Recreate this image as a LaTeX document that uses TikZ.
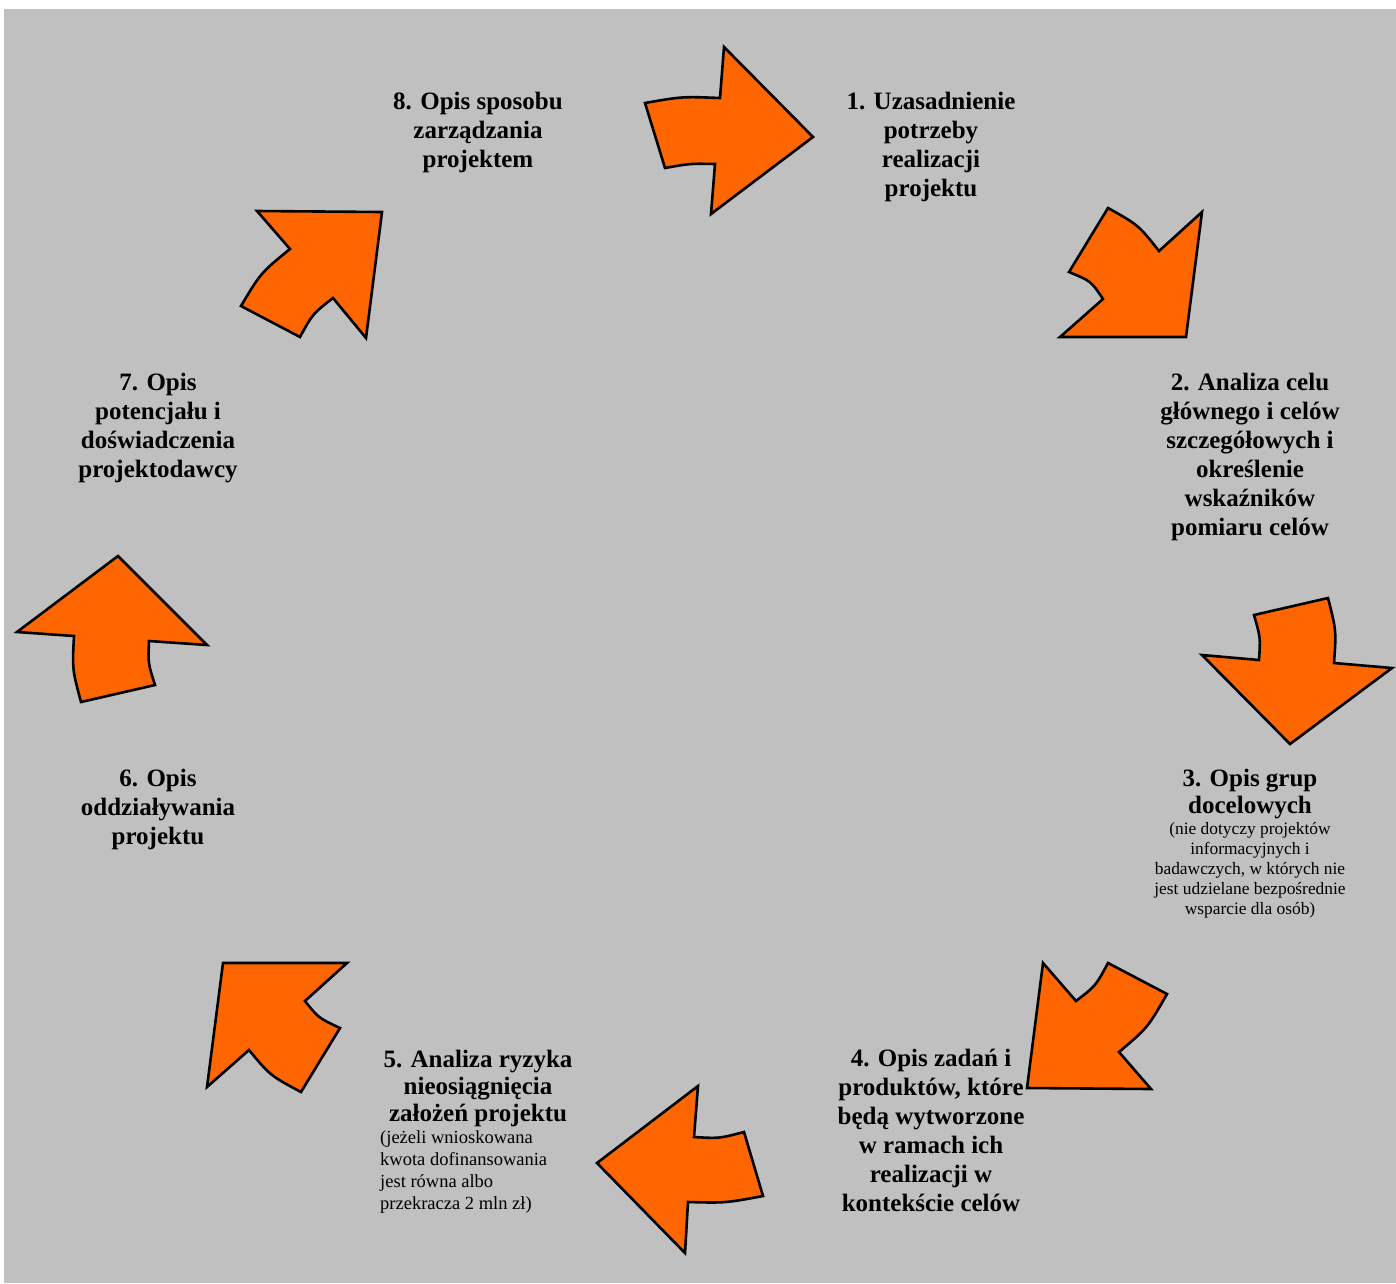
\documentclass[tikz,border=0pt]{standalone}
\usepackage{fontspec}
\setmainfont{Liberation Serif}
\definecolor{bggray}{HTML}{C0C0C0}
\definecolor{arroworange}{HTML}{FF6600}
\begin{document}
\begin{tikzpicture}[x=1pt,y=-1pt,
  arrowshape/.style={fill=arroworange,draw=black,line width=2.6pt,line join=miter},
  title/.style={align=center,anchor=base,inner sep=0pt,font=\fontsize{25}{29}\selectfont\bfseries},
  titlec/.style={align=center,anchor=base,inner sep=0pt,font=\fontsize{25}{27}\selectfont\bfseries},
  note/.style={align=center,anchor=base,inner sep=0pt,font=\fontsize{17.4}{20}\selectfont},
  notel/.style={align=left,anchor=base west,inner sep=0pt,font=\fontsize{18.5}{21.8}\selectfont}]
\useasboundingbox (0,0) rectangle (1396,1283);
\fill[white] (0,0) rectangle (1396,1283);
\fill[bggray] (4,9) rectangle (1396,1283);

% arrows
\path[arrowshape] (645,103) .. controls (682,96.5) .. (720,98) -- (724,47) -- (813,137) -- (711,214) -- (715,164) .. controls (690,163.5) .. (665,168) -- cycle;
\path[arrowshape] (1108,208) .. controls (1138.5,225.1) .. (1159,251) -- (1202,212) -- (1186,337) -- (1060,337) -- (1103,299) .. controls (1091,281.1) .. (1069,272) -- cycle;
\path[arrowshape] (1259,660) .. controls (1260.5,637.6) .. (1254,615) -- (1328,598) .. controls (1336.3,630.7) .. (1334,663) -- (1392,668) -- (1290,744) -- (1202,655) -- cycle;
\path[arrowshape] (1043,963) -- (1076,1001) .. controls (1095.8,985.7) .. (1108,963) -- (1167,994) .. controls (1147.8,1027.6) .. (1119,1052) -- (1151,1089) -- (1027,1088) -- cycle;
\path[arrowshape] (698,1086) -- (694,1137) .. controls (719,1138.5) .. (744,1132) -- (763,1196) .. controls (725.5,1203) .. (688,1202) -- (685,1253) -- (597,1163) -- cycle;
\path[arrowshape] (223,963) -- (347,963) -- (305,1001) .. controls (318.5,1018) .. (340,1028) -- (301,1092) .. controls (270,1075.4) .. (249,1050) -- (207,1087) -- cycle;
\path[arrowshape] (118,556) -- (207,645) -- (149,641) .. controls (148,663) .. (155,685) -- (81,702) .. controls (72.2,669) .. (74,636) -- (17,632) -- cycle;
\path[arrowshape] (257,211) -- (382,212) -- (366,338) -- (333,298) .. controls (312.7,313.8) .. (300,337) -- (241,306) .. controls (260.7,272.9) .. (290,249) -- cycle;

% texts (anchor = baseline of the last line)
\node[title] (t1) at (931,196) {1. Uzasadnienie\\potrzeby\\realizacji\\projektu};
\node[title] (t2) at (1250,535) {2. Analiza celu\\głównego i celów\\szczegółowych i\\określenie\\wskaźników\\pomiaru celów};
\node[titlec] (t3) at (1250,813) {3. Opis grup\\docelowych};
\node[note] (n3) at (1250,914) {(nie dotyczy projektów\\informacyjnych i\\badawczych, w których nie\\jest udzielane bezpośrednie\\wsparcie dla osób)};
\node[title] (t4) at (931,1211) {4. Opis zadań i\\produktów, które\\będą wytworzone\\w ramach ich\\realizacji w\\kontekście celów};
\node[titlec] (t5) at (478,1121) {5. Analiza ryzyka\\nieosiągnięcia\\założeń projektu};
\node[notel] (n5) at (380,1209) {(jeżeli wnioskowana\\kwota dofinansowania\\jest równa albo\\przekracza 2 mln zł)};
\node[title] (t6) at (158,844) {6. Opis\\oddziaływania\\projektu};
\node[title] (t7) at (158,477) {7. Opis\\potencjału i\\doświadczenia\\projektodawcy};
\node[title] (t8) at (478,167) {8. Opis sposobu\\zarządzania\\projektem};
\end{tikzpicture}
\end{document}
